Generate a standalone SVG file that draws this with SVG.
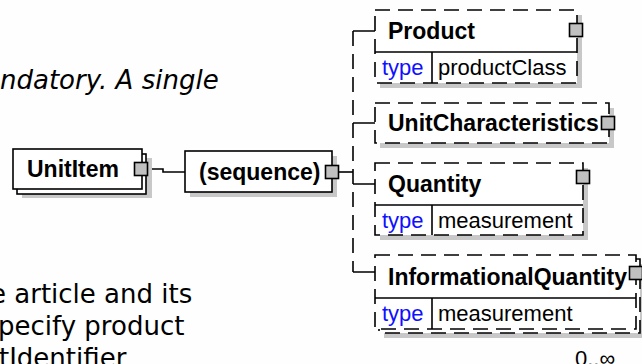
<svg xmlns="http://www.w3.org/2000/svg" width="642" height="364" viewBox="0 0 642 364">
<style>
.bg{fill:#fefefe}
.box{fill:#fff;stroke:#000;stroke-width:1.6}
.dash{stroke-dasharray:15 8}
.shadow{fill:#c8c8c8}
.sq{fill:#c0c0c0;stroke:#000;stroke-width:1.6}
.ln{fill:none;stroke:#000;stroke-width:1.6}
.name{font-family:"Liberation Sans",Arial,sans-serif;font-weight:bold;font-size:23px;fill:#000}
.lbl{font-family:"Liberation Sans",Arial,sans-serif;font-size:22px;fill:#000}
.type{fill:#1010ff}
.doc{font-family:"DejaVu Sans",Verdana,sans-serif;font-size:26px;fill:#000}
</style>
<rect class="bg" x="0" y="0" width="642" height="364"/>
<g id="doc-text">
<text class="doc" x="0" y="89" font-style="italic">ndatory. A single</text>
<text class="doc" x="-10" y="303">e article and its</text>
<text class="doc" x="-2" y="335">pecify product</text>
<text class="doc" x="-1" y="367">tIdentifier</text>
</g>
<g id="connectors">
<path class="ln" d="M147,169 H163 V172 H185"/>
<path class="ln" d="M338,172 H353"/>
<path class="ln dash" d="M353,31 V272"/>
<path class="ln" d="M353,31 H375 M353,123 H375 M353,184 H375 M353,272 H375"/>
</g>
<g id="UnitItem">
<rect class="shadow" x="22" y="158" width="130" height="40"/>
<rect class="box" x="17" y="154" width="129" height="40"/>
<rect class="box" x="13" y="149" width="129" height="40"/>
<text class="name" x="27" y="177">UnitItem</text>
<rect class="sq" x="134.5" y="162.5" width="13" height="13"/>
</g>
<g id="sequence">
<rect class="shadow" x="190" y="156" width="147" height="41"/>
<rect class="box" x="185" y="151" width="147" height="41"/>
<text class="name" x="199" y="180">(sequence)</text>
<rect class="sq" x="325.5" y="165.5" width="13" height="13"/>
</g>
<g id="Product">
<rect class="shadow" x="380" y="15" width="202" height="73"/>
<rect class="box dash" x="375" y="10" width="202" height="73"/>
<path class="ln" d="M375,52 H577 M432,52 V83"/>
<text class="name" x="388" y="39">Product</text>
<text class="lbl type" x="382" y="75">type</text>
<text class="lbl" x="438" y="75">productClass</text>
<rect class="sq" x="569.5" y="23.5" width="13" height="13"/>
</g>
<g id="UnitCharacteristics">
<rect class="shadow" x="380" y="108" width="234" height="40"/>
<rect class="box dash" x="375" y="103" width="234" height="40"/>
<text class="name" x="388" y="131">UnitCharacteristics</text>
<rect class="sq" x="601.5" y="116.5" width="13" height="13"/>
</g>
<g id="Quantity">
<rect class="shadow" x="380" y="168" width="208" height="72"/>
<rect class="box dash" x="375" y="163" width="208" height="72"/>
<path class="ln" d="M375,205 H583 M432,205 V235"/>
<text class="name" x="388" y="192">Quantity</text>
<text class="lbl type" x="382" y="228">type</text>
<text class="lbl" x="438" y="228">measurement</text>
<rect class="sq" x="576.5" y="170.5" width="13" height="13"/>
</g>
<g id="InformationalQuantity">
<rect class="shadow" x="384" y="264" width="262" height="74"/>
<rect class="box dash" x="379" y="259" width="261" height="74"/>
<rect class="box dash" x="375" y="255" width="261" height="74"/>
<path class="ln" d="M375,298 H636 M432,298 V329"/>
<text class="name" x="388" y="285">InformationalQuantity</text>
<text class="lbl type" x="382" y="321">type</text>
<text class="lbl" x="438" y="321">measurement</text>
<rect class="sq" x="629.5" y="266.5" width="13" height="13"/>
<text class="lbl" x="575" y="366">0..∞</text>
</g>
</svg>
